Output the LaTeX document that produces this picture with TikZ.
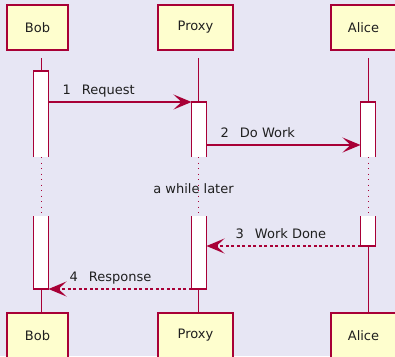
\documentclass[tikz,border=0pt]{standalone}
\usepackage{fontspec}
\setmainfont{DejaVu Sans}
\usetikzlibrary{arrows.meta}
\definecolor{bg}{HTML}{E7E6F4}
\definecolor{seqline}{HTML}{A80036}
\definecolor{partfill}{HTML}{FEFECE}
\definecolor{txt}{HTML}{1F1F1F}
\tikzset{
  party/.style={draw=seqline, fill=partfill, line width=1.6pt, inner sep=0pt,
    minimum height=45pt, font=\fontsize{13}{15}\selectfont, text=txt},
  lifeline/.style={draw=seqline, line width=1pt},
  lifegap/.style={draw=seqline, line width=1pt, dash pattern=on 1.2pt off 4.3pt},
  actbar/.style={draw=seqline, fill=white, line width=1.4pt},
  msg/.style={draw=seqline, line width=1.4pt,
    -{Stealth[length=18pt, width=15pt, inset=8pt]}},
  reply/.style={msg, dash pattern=on 3pt off 2.5pt},
  msglabel/.style={anchor=base west, inner sep=0pt, text=txt,
    font=\fontsize{13}{15}\selectfont},
}
\begin{document}
\begin{tikzpicture}[x=1pt, y=-1pt]
\useasboundingbox (0,0) rectangle (395,356);
\fill[bg] (0,0) rectangle (395,356);

% participants, top and bottom
\node[party, minimum width=61pt] (bobT)   at (37.5,27.5)  {Bob};
\node[party, minimum width=75pt] (proxyT) at (195.5,27.5) {Proxy};
\node[party, minimum width=65pt] (aliceT) at (363.5,27.5) {Alice};
\node[party, minimum width=61pt] (bobB)   at (37.5,335.5)  {Bob};
\node[party, minimum width=75pt] (proxyB) at (195.5,335.5) {Proxy};
\node[party, minimum width=65pt] (aliceB) at (363.5,335.5) {Alice};

% lifelines, broken by the delay
\foreach \x/\p in {41/bob, 198/proxy, 368/alice}{
  \coordinate (\p Top) at (\x,58);
  \coordinate (\p BreakA) at (\x,157);
  \coordinate (\p BreakB) at (\x,216);
  \coordinate (\p Bot) at (\x,313);
  \draw[lifeline] (\p Top) -- (\p BreakA);
  \draw[lifegap] (\p BreakA) -- (\p BreakB);
  \draw[lifeline] (\p BreakB) -- (\p Bot);
}

% activation bars (open ends at the break)
\filldraw[actbar] (33.5,157) -- (33.5,71) -- (48.5,71) -- (48.5,157);
\filldraw[actbar] (33.5,216) -- (33.5,289) -- (48.5,289) -- (48.5,216);
\filldraw[actbar] (191.5,157) -- (191.5,102) -- (206.5,102) -- (206.5,157);
\filldraw[actbar] (191.5,216) -- (191.5,289) -- (206.5,289) -- (206.5,216);
\filldraw[actbar] (360.5,157) -- (360.5,102) -- (375.5,102) -- (375.5,157);
\filldraw[actbar] (360.5,216) -- (360.5,246) -- (375.5,246) -- (375.5,216);

% message end points on the activation bars
\coordinate (m1a) at (48.5,102);  \coordinate (m1b) at (191.5,102);
\coordinate (m2a) at (206.5,145); \coordinate (m2b) at (360.5,145);
\coordinate (m3a) at (360.5,246); \coordinate (m3b) at (206.5,246);
\coordinate (m4a) at (191.5,289); \coordinate (m4b) at (48.5,289);

\draw[msg]   (m1a) -- (m1b);
\draw[msg]   (m2a) -- (m2b);
\draw[reply] (m3a) -- (m3b);
\draw[reply] (m4a) -- (m4b);

\node[msglabel] (l1) at (62.5,94)  {1\hspace{11pt}Request};
\node[msglabel] (l2) at (220.5,137) {2\hspace{11pt}Do Work};
\node[msglabel] (l3) at (235.5,238) {3\hspace{11pt}Work Done};
\node[msglabel] (l4) at (69.5,281) {4\hspace{11pt}Response};

\node[anchor=base, inner sep=0pt, text=txt, font=\fontsize{13}{15}\selectfont]
  (delay) at (193.5,193) {a while later};
\end{tikzpicture}
\end{document}
